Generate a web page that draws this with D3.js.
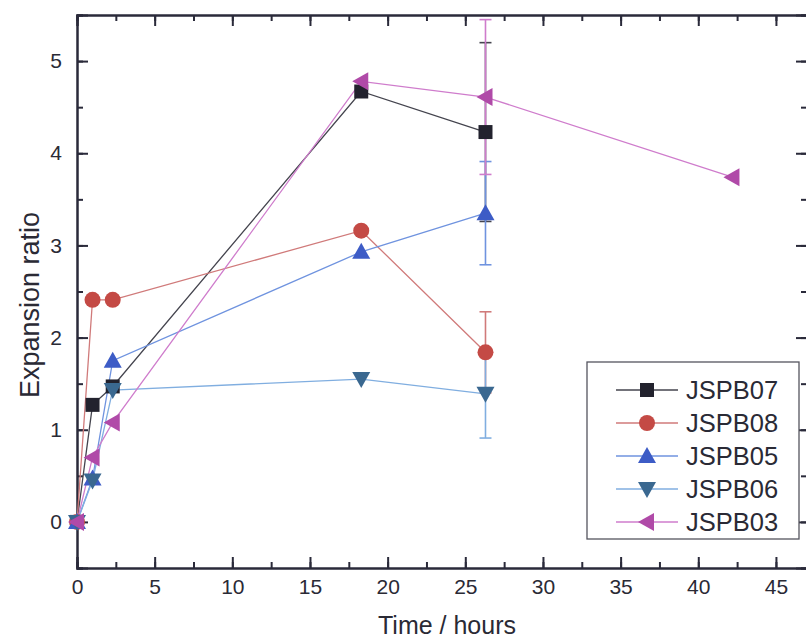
<!DOCTYPE html>
<html lang="en">
<head>
  <meta charset="utf-8">
  <title>Expansion ratio</title>
  <script src="https://d3js.org/d3.v7.min.js"></script>
  <style>
    body { margin: 0; background: #fff; }
    text { font-family: "Liberation Sans", Arial, sans-serif; fill: #2a2a35; }
  </style>
</head>
<body>
<script>
// data
var seriesNames = ["JSPB07", "JSPB08", "JSPB05", "JSPB06", "JSPB03"];
var timeShort = [0, 1, 2.3, 18.3, 26.3];
var timeLong = [0, 1, 2.3, 18.3, 26.3, 42.2];
var jspb07 = [0, 1.27, 1.47, 4.67, 4.23];
var jspb08 = [0, 2.41, 2.41, 3.16, 1.84];
var jspb05 = [0, 0.47, 1.75, 2.93, 3.35];
var jspb06 = [0, 0.45, 1.43, 1.55, 1.39];
var jspb03 = [0, 0.70, 1.08, 4.78, 4.61, 3.74];
// error bars at the 26.3 h point (half widths)
var errors = [0.97, 0.44, 0.56, 0.48, 0.84];

var xTicks = [0, 5, 10, 15, 20, 25, 30, 35, 40, 45];
var yTicks = [0, 1, 2, 3, 4, 5];

var svg_width = 806, svg_height = 642;
var margin = {left: 77, right: -1, top: 15, bottom: 74};
var axisColor = "#2a2a3a";

var svg = d3.select("body").append("svg")
  .attr("width", svg_width)
  .attr("height", svg_height);

var x = d3.scaleLinear().domain([0, 47]).range([margin.left, svg_width - margin.right]);
var y = d3.scaleLinear().domain([-0.5, 5.5]).range([svg_height - margin.bottom, margin.top]);

var styles = [
  {line: "#44444e", fill: "#22222e", shape: "square"},
  {line: "#d07a7a", fill: "#c44a45", shape: "circle"},
  {line: "#6f93df", fill: "#3d5cc6", shape: "up"},
  {line: "#80aee0", fill: "#3a6890", shape: "down"},
  {line: "#cf7ccc", fill: "#b04aa8", shape: "left"}
];

var data = [jspb07, jspb08, jspb05, jspb06, jspb03].map(function(vals, i) {
  var ts = vals.length == 6 ? timeLong : timeShort;
  return {
    name: seriesNames[i],
    style: styles[i],
    err: errors[i],
    points: vals.map(function(v, j) { return {t: ts[j], v: v}; })
  };
});

function markerPath(shape) {
  if (shape == "square") return "M-7,-7H7V7H-7Z";
  if (shape == "up") return "M0,-9L9,7H-9Z";
  if (shape == "down") return "M0,9L9,-7H-9Z";
  if (shape == "left") return "M-9,0L7,-9V9Z";
  return null;
}

function drawMarker(g, shape, fill) {
  if (shape == "circle") {
    g.append("circle").attr("r", 8).attr("fill", fill);
  } else {
    g.append("path").attr("d", markerPath(shape)).attr("fill", fill);
  }
}

// axes (box with inward ticks)
var xMinor = d3.range(0, 47.1, 2.5);
var yMinor = d3.range(-0.5, 5.51, 0.5);

function addAxis(axis, transform) {
  var g = svg.append("g").attr("transform", transform).call(axis);
  g.select(".domain").attr("stroke", axisColor).attr("stroke-width", 2);
  g.selectAll(".tick line").attr("stroke", axisColor).attr("stroke-width", 2);
  g.selectAll("text").attr("font-size", 21).attr("fill", "#2a2a35")
    .style("font-family", "Liberation Sans, Arial, sans-serif");
  return g;
}

var bottomY = y(-0.5), topY = y(5.5);
// minor first
addAxis(d3.axisBottom(x).tickValues(xMinor).tickSize(-6).tickFormat(""), "translate(0," + bottomY + ")");
addAxis(d3.axisTop(x).tickValues(xMinor).tickSize(-6).tickFormat(""), "translate(0," + topY + ")");
addAxis(d3.axisLeft(y).tickValues(yMinor).tickSize(-6).tickFormat(""), "translate(" + x(0) + ",0)");
addAxis(d3.axisRight(y).tickValues(yMinor).tickSize(-6).tickFormat(""), "translate(" + x(47) + ",0)");
// major
addAxis(d3.axisBottom(x).tickValues(xTicks).tickSize(-11).tickPadding(11).tickFormat(d3.format("d")), "translate(0," + bottomY + ")");
addAxis(d3.axisTop(x).tickValues(xTicks).tickSize(-11).tickFormat(""), "translate(0," + topY + ")");
addAxis(d3.axisLeft(y).tickValues(yTicks).tickSize(-11).tickPadding(15).tickFormat(d3.format("d")), "translate(" + x(0) + ",0)");
addAxis(d3.axisRight(y).tickValues(yTicks).tickSize(-11).tickFormat(""), "translate(" + x(47) + ",0)");

// titles
svg.append("text")
  .attr("x", 447).attr("y", 634)
  .attr("text-anchor", "middle")
  .attr("font-size", 25)
  .text("Time / hours");

svg.append("text")
  .attr("transform", "translate(39,305) rotate(-90)")
  .attr("text-anchor", "middle")
  .attr("font-size", 27)
  .text("Expansion ratio");

var line = d3.line().x(function(d) { return x(d.t); }).y(function(d) { return y(d.v); });

var plot = svg.append("g");

// error bars
data.forEach(function(s) {
  var p = s.points[4];
  var eg = plot.append("g").attr("stroke", s.style.line).attr("stroke-width", 1.6);
  eg.append("line").attr("x1", x(p.t)).attr("x2", x(p.t))
    .attr("y1", y(p.v - s.err)).attr("y2", y(p.v + s.err));
  [p.v - s.err, p.v + s.err].forEach(function(e) {
    eg.append("line").attr("x1", x(p.t) - 6).attr("x2", x(p.t) + 6)
      .attr("y1", y(e)).attr("y2", y(e));
  });
});

// lines
data.forEach(function(s) {
  plot.append("path")
    .datum(s.points)
    .attr("fill", "none")
    .attr("stroke", s.style.line)
    .attr("stroke-width", 1.3)
    .attr("d", line);
});

// markers
data.forEach(function(s) {
  s.points.forEach(function(p) {
    var g = plot.append("g").attr("transform", "translate(" + x(p.t) + "," + y(p.v) + ")");
    drawMarker(g, s.style.shape, s.style.fill);
  });
});

// legend
var legend = svg.append("g");
legend.append("rect")
  .attr("x", 587).attr("y", 362).attr("width", 212).attr("height", 177)
  .attr("fill", "#fff").attr("stroke", "#55555f").attr("stroke-width", 1.3);

data.forEach(function(s, i) {
  var ly = 390 + i * 33;
  legend.append("line").attr("x1", 616).attr("x2", 678).attr("y1", ly).attr("y2", ly)
    .attr("stroke", s.style.line).attr("stroke-width", 1.5);
  var g = legend.append("g").attr("transform", "translate(647," + ly + ")");
  drawMarker(g, s.style.shape, s.style.fill);
  legend.append("text").attr("x", 686).attr("y", ly + 9)
    .attr("font-size", 25.5)
    .text(s.name);
});
</script>
</body>
</html>
